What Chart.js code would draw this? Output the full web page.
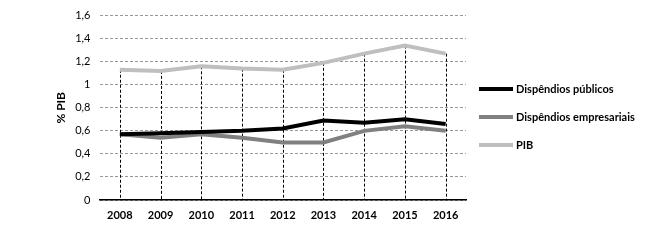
<!DOCTYPE html>
<html><head><meta charset="utf-8">
<script src="https://cdn.jsdelivr.net/npm/chart.js@4/dist/chart.umd.min.js"></script>
<style>html,body{margin:0;padding:0;background:#fff}#w{width:667px;height:245px}</style>
</head><body><div id="w"><canvas id="c"></canvas></div>
<script>
const years = ['2008','2009','2010','2011','2012','2013','2014','2015','2016'];
const publicos = [0.57,0.58,0.59,0.60,0.62,0.69,0.67,0.70,0.66];
const empresariais = [0.57,0.54,0.57,0.54,0.50,0.50,0.60,0.64,0.60];
const pib = [1.13,1.12,1.16,1.14,1.13,1.19,1.27,1.34,1.27];
const seriesNames = ['Dispêndios públicos','Dispêndios empresariais','PIB'];
const yTitle = '% PIB';

const FONT = 'Lato, "Liberation Sans", sans-serif';

const dropLines = {
  id:'dropLines',
  beforeDatasetsDraw(chart){
    const {ctx, chartArea, scales:{x,y}} = chart;
    ctx.save();
    ctx.strokeStyle='#000'; ctx.lineWidth=1; ctx.setLineDash([3,2]);
    years.forEach((_,i)=>{
      const top = Math.max(...chart.data.datasets.map(d=>d.data[i]));
      const px = Math.round(x.getPixelForValue(i))+0.5;
      ctx.beginPath(); ctx.moveTo(px, y.getPixelForValue(top)); ctx.lineTo(px, chartArea.bottom); ctx.stroke();
    });
    ctx.restore();
  }
};
const sideLegend = {
  id:'sideLegend',
  afterDraw(chart){
    const {ctx} = chart;
    ctx.save();
    chart.data.datasets.forEach((d,i)=>{
      const yy = 89 + i*28;
      ctx.strokeStyle=d.borderColor; ctx.lineWidth=4; ctx.setLineDash([]);
      ctx.beginPath(); ctx.moveTo(479,yy); ctx.lineTo(513,yy); ctx.stroke();
      ctx.fillStyle='#000'; ctx.font='bold 11px '+FONT; ctx.textBaseline='middle'; ctx.textAlign='left';
      ctx.fillText(d.label, 516, yy);
    });
    ctx.restore();
  }
};

new Chart(document.getElementById('c'), {
  type:'line',
  data:{labels:years, datasets:[
    {label:seriesNames[0], data:publicos, borderColor:'#000000', borderWidth:4, pointRadius:0, tension:0},
    {label:seriesNames[1], data:empresariais, borderColor:'#808080', borderWidth:4, pointRadius:0, tension:0},
    {label:seriesNames[2], data:pib, borderColor:'#bfbfbf', borderWidth:4, pointRadius:0, tension:0}
  ]},
  options:{
    responsive:true, maintainAspectRatio:false, animation:false,
    layout:{padding:{top:12,right:201,bottom:0,left:0}},
    plugins:{legend:{display:false}, tooltip:{enabled:false}},
    scales:{
      x:{offset:true, grid:{display:false, drawTicks:false},
         border:{color:'#000', width:1.5},
         ticks:{color:'#000', font:{family:FONT, size:11, weight:'bold'}, padding:9},
         afterFit(s){s.height=45;}},
      y:{min:0,max:1.6, grid:{color:'#999', drawTicks:false},
         border:{display:false, dash:[3,2]},
         ticks:{stepSize:0.2, color:'#000', padding:9, font:{family:FONT, size:11},
           callback:v=>String(Number(v.toFixed(1))).replace('.',',')},
         title:{display:true, text:yTitle, color:'#000', font:{family:FONT, size:12, weight:'bold'}, padding:{top:54,bottom:0}},
         afterFit(s){s.width=99.5;}}
    }
  },
  plugins:[dropLines, sideLegend]
});
</script></body></html>
